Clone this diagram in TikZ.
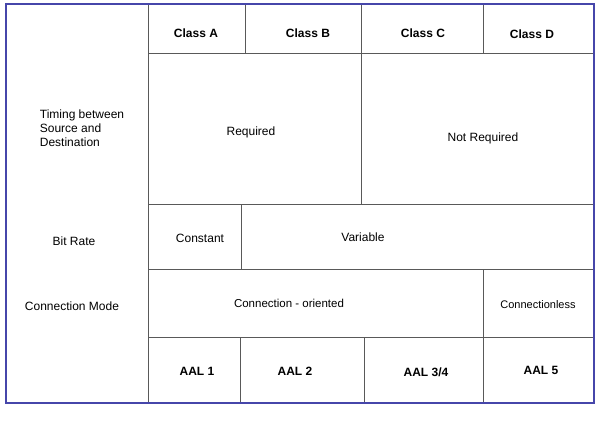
\documentclass[tikz,border=0pt]{standalone}
\usepackage{fontspec}
\setmainfont{Liberation Sans}
\begin{document}
\begin{tikzpicture}[x=1pt,y=-1pt,
  grid/.style={draw=gray!70!black,line width=0.6pt},
  lbl/.style={font=\fontsize{12}{14}\selectfont,align=center},
  bl/.style={font=\bfseries\fontsize{12}{14}\selectfont}]
\useasboundingbox (0,0) rectangle (603,429);
\fill[white] (0,0) rectangle (603,429);
% inner grid
\draw[grid] (148,4) -- (148,403);
\draw[grid] (148,53) -- (594,53);
\draw[grid] (148,204) -- (594,204);
\draw[grid] (148,269) -- (594,269);
\draw[grid] (148,337) -- (594,337);
\draw[grid] (245,4) -- (245,53);
\draw[grid] (361,4) -- (361,204);
\draw[grid] (483,4) -- (483,53);
\draw[grid] (241,204) -- (241,269);
\draw[grid] (483,269) -- (483,403);
\draw[grid] (240,337) -- (240,403);
\draw[grid] (364,337) -- (364,403);
\draw[draw={rgb,255:red,70;green,70;blue,170},line width=1.6pt] (6,4) rectangle (594,403);
% texts
\node[bl] (ca) at (196,33) {Class A};
\node[bl] (cb) at (308,33) {Class B};
\node[bl] (cc) at (423,33) {Class C};
\node[bl] (cd) at (532,34) {Class D};
\node[lbl,align=left] (tim) at (82,128) {Timing between\\Source and\\Destination};
\node[lbl] (req) at (251,132) {Required};
\node[lbl] (nreq) at (483,138) {Not Required};
\node[lbl] (br) at (74,241) {Bit Rate};
\node[lbl] (con) at (200,238) {Constant};
\node[lbl] (var) at (363,237) {Variable};
\node[lbl] (cm) at (72,306) {Connection Mode};
\node[lbl,font=\fontsize{11.5}{13}\selectfont] (co) at (289,303) {Connection - oriented};
\node[lbl,font=\fontsize{11}{13}\selectfont] (cl) at (538,305) {Connectionless};
\node[bl] (a1) at (197,371) {AAL 1};
\node[bl] (a2) at (295,371) {AAL 2};
\node[bl] (a3) at (426,372) {AAL 3/4};
\node[bl] (a5) at (541,370) {AAL 5};
\end{tikzpicture}
\end{document}
